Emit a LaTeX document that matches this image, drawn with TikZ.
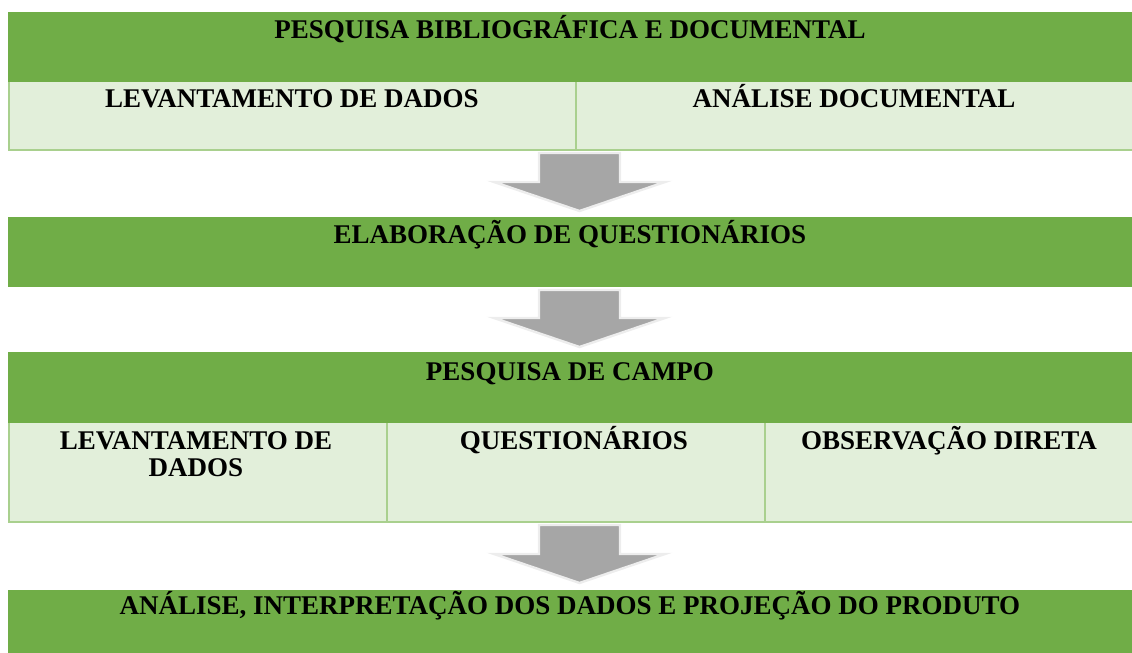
\documentclass[tikz,border=0pt]{standalone}
\usepackage{fontspec}
\setmainfont{Liberation Serif}
\definecolor{dgreen}{HTML}{70AD47}
\definecolor{lgreen}{HTML}{E2EFDA}
\definecolor{bgreen}{HTML}{A9D08E}
\definecolor{agray}{HTML}{A6A6A6}
\definecolor{aedge}{HTML}{EDEDED}
\tikzset{
  hdr/.style={fill=dgreen, draw=none},
  lbl/.style={font=\fontsize{13.5pt}{13.2pt}\selectfont\bfseries, text=black, anchor=base, align=center, inner sep=0pt},
  rule/.style={draw=bgreen, line width=1pt},
  blockarrow/.style={fill=agray, draw=aedge, line width=1.2pt, line join=miter},
}
\begin{document}
\begin{tikzpicture}[x=0.5pt, y=-0.5pt]
\useasboundingbox (0,0) rectangle (1132,653);
% block 1
\fill[hdr] (8,12) rectangle (1132,82);
\fill[lgreen] (9,82) rectangle (1132,149);
\draw[rule] (9,82) -- (9,149);
\draw[rule] (8,150) -- (1132,150);
\draw[rule] (576,82) -- (576,149);
\node[lbl] (h1) at (570,39) {PESQUISA BIBLIOGRÁFICA E DOCUMENTAL};
\node[lbl] (c11) at (292,107) {LEVANTAMENTO DE DADOS};
\node[lbl] (c12) at (854,107) {ANÁLISE DOCUMENTAL};
% arrow 1
\draw[blockarrow] (539,153) -- (620,153) -- (620,182) -- (665,182) -- (579.5,211) -- (494,182) -- (539,182) -- cycle;
% block 2
\fill[hdr] (8,217) rectangle (1132,287);
\node[lbl] (h2) at (570,243) {ELABORAÇÃO DE QUESTIONÁRIOS};
% arrow 2
\draw[blockarrow] (539,290) -- (620,290) -- (620,318) -- (665,318) -- (579.5,347) -- (494,318) -- (539,318) -- cycle;
% block 3
\fill[hdr] (8,352) rectangle (1132,423);
\fill[lgreen] (9,423) rectangle (1132,521);
\draw[rule] (9,423) -- (9,521);
\draw[rule] (8,522) -- (1132,522);
\draw[rule] (387,423) -- (387,521);
\draw[rule] (765,423) -- (765,521);
\node[lbl] (h3) at (570,380) {PESQUISA DE CAMPO};
\node[lbl] (c31) at (196,476) {LEVANTAMENTO DE\\DADOS};
\node[lbl] (c32) at (574,449) {QUESTIONÁRIOS};
\node[lbl] (c33) at (949,449) {OBSERVAÇÃO DIRETA};
% arrow 3
\draw[blockarrow] (539,525) -- (620,525) -- (620,554) -- (665,554) -- (579.5,583) -- (494,554) -- (539,554) -- cycle;
% block 4
\fill[hdr] (8,590) rectangle (1132,653);
\node[lbl] (h4) at (570,614) {ANÁLISE, INTERPRETAÇÃO DOS DADOS E PROJEÇÃO DO PRODUTO};
\end{tikzpicture}
\end{document}
